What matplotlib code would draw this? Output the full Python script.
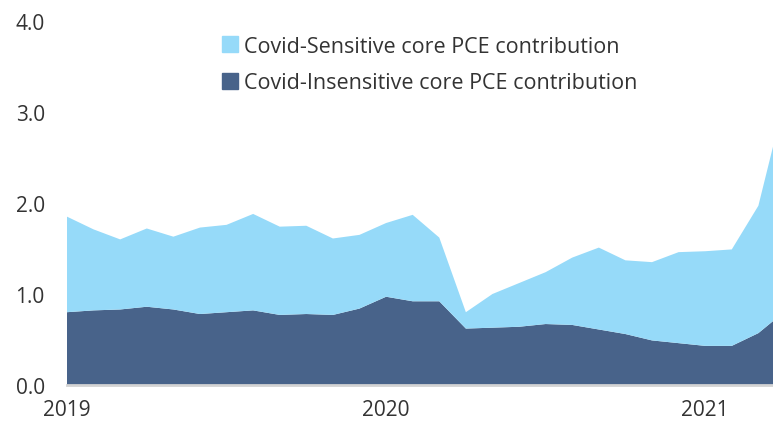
import matplotlib.pyplot as plt
from matplotlib.patches import Patch

# monthly, Jan 2019 .. Apr 2021
months = ["2019-01", "2019-02", "2019-03", "2019-04", "2019-05", "2019-06",
          "2019-07", "2019-08", "2019-09", "2019-10", "2019-11", "2019-12",
          "2020-01", "2020-02", "2020-03", "2020-04", "2020-05", "2020-06",
          "2020-07", "2020-08", "2020-09", "2020-10", "2020-11", "2020-12",
          "2021-01", "2021-02", "2021-03", "2021-04"]

insensitive = [0.80, 0.82, 0.83, 0.86, 0.83, 0.78, 0.80, 0.82, 0.77, 0.78,
               0.77, 0.84, 0.97, 0.92, 0.92, 0.62, 0.63, 0.64, 0.67, 0.66,
               0.61, 0.56, 0.49, 0.46, 0.43, 0.43, 0.57, 0.81]
total = [1.85, 1.71, 1.60, 1.72, 1.63, 1.73, 1.76, 1.88, 1.74, 1.75,
         1.61, 1.65, 1.78, 1.87, 1.62, 0.80, 1.00, 1.12, 1.24, 1.40,
         1.51, 1.37, 1.35, 1.46, 1.47, 1.49, 1.97, 3.15]
sensitive = [t - i for t, i in zip(total, insensitive)]

year_ticks = ["2019", "2020", "2021"]

light = "#96DAF9"
dark = "#48638A"
txt = "#333333"

plt.rcParams["font.family"] = ["Open Sans", "DejaVu Sans"]

fig = plt.figure(figsize=(7.73, 4.27), dpi=100)
ax = fig.add_axes([67 / 773, 41 / 427, 1 - 67 / 773, (386 - 22) / 427])

x = list(range(len(months)))
ax.stackplot(x, insensitive, sensitive, colors=[dark, light], linewidth=0)

ax.set_xlim(0, 26.55)
ax.set_ylim(0, 4)
ax.set_yticks([0, 1, 2, 3, 4])
ax.set_yticklabels(["0.0", "1.0", "2.0", "3.0", "4.0"])
ax.set_xticks([months.index(y + "-01") for y in year_ticks])
ax.set_xticklabels(year_ticks)
ax.tick_params(axis="both", length=0, labelsize=15, colors=txt)
ax.tick_params(axis="y", pad=16)
ax.tick_params(axis="x", pad=10)

for s in ["top", "right", "left"]:
    ax.spines[s].set_visible(False)
ax.spines["bottom"].set_color("#d3d3d3")
ax.spines["bottom"].set_linewidth(2)

handles = [Patch(color=light, label="Covid-Sensitive core PCE contribution"),
           Patch(color=dark, label="Covid-Insensitive core PCE contribution")]
leg = fig.legend(handles=handles, loc="upper left", bbox_to_anchor=(211 / 773, 1 - 26 / 427),
                 frameon=False, fontsize=15.5, handlelength=0.75, handleheight=0.75,
                 handletextpad=0.3, labelspacing=0.72, borderpad=0)
for t in leg.get_texts():
    t.set_color(txt)

fig.savefig("out.png", dpi=100)
